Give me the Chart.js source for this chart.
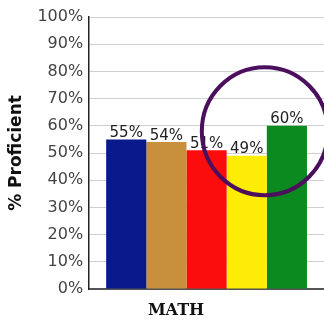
<!DOCTYPE html>
<html>
<head>
<meta charset="utf-8">
<script src="https://cdn.jsdelivr.net/npm/chart.js@4"></script>
<style>
  html, body { margin: 0; padding: 0; background: #fff; }
  #wrap { width: 324px; height: 323px; }
</style>
</head>
<body>
<div id="wrap"><canvas id="chart" width="324" height="323"></canvas></div>
<script>
"use strict";

const categories = ["MATH"];
const groups = ["Group 1", "Group 2", "Group 3", "Group 4", "Group 5"];
const values = [55, 54, 51, 49, 60];
const colors = ["#08198c", "#c88f3c", "#fb0d0d", "#fdec05", "#0b8a1f"];
const yTicks = [0, 10, 20, 30, 40, 50, 60, 70, 80, 90, 100];

// value labels above each bar
const barLabels = {
  id: "barLabels",
  afterDatasetsDraw(chart) {
    const ctx = chart.ctx;
    ctx.save();
    ctx.font = "15px 'DejaVu Sans'";
    ctx.fillStyle = "#222";
    ctx.textAlign = "center";
    ctx.textBaseline = "bottom";
    chart.data.datasets.forEach((ds, i) => {
      const bar = chart.getDatasetMeta(i).data[0];
      ctx.fillText(ds.data[0] + "%", bar.x, bar.y + 1);
    });
    ctx.restore();
  },
};

// category label + highlight circle
const extras = {
  id: "extras",
  afterDraw(chart) {
    const ctx = chart.ctx;
    const a = chart.chartArea;
    ctx.save();
    ctx.font = "bold 16px 'DejaVu Serif'";
    ctx.fillStyle = "#111";
    ctx.textAlign = "center";
    ctx.textBaseline = "middle";
    ctx.fillText(categories[0], a.left + (a.right - a.left) * 0.37, a.bottom + 22);

    const b3 = chart.getDatasetMeta(3).data[0];
    const b4 = chart.getDatasetMeta(4).data[0];
    const cx = (b3.x + b3.width / 2 + b4.x - b4.width / 2) / 2;
    const cy = chart.scales.y.getPixelForValue(58);
    ctx.beginPath();
    ctx.ellipse(cx - 2, cy, 63, 64, 0, 0, Math.PI * 2);
    ctx.strokeStyle = "#4b0f5e";
    ctx.lineWidth = 4;
    ctx.stroke();
    ctx.restore();
  },
};

new Chart(document.getElementById("chart"), {
  type: "bar",
  data: {
    labels: categories,
    datasets: groups.map((g, i) => ({
      label: g,
      data: [values[i]],
      backgroundColor: colors[i],
      borderWidth: 0,
      categoryPercentage: 0.855,
      barPercentage: 1.0,
    })),
  },
  options: {
    responsive: false,
    animation: false,
    layout: { padding: { top: 17, right: 0, bottom: 34, left: 6 } },
    plugins: { legend: { display: false }, tooltip: { enabled: false } },
    scales: {
      x: {
        ticks: { display: false },
        grid: { display: false, drawTicks: false },
        border: { color: "#555", width: 2 },
      },
      y: {
        min: 0,
        max: 100,
        afterBuildTicks: (s) => { s.ticks = yTicks.map((v) => ({ value: v })); },
        ticks: {
          callback: (v) => v + "%",
          color: "#444",
          font: { family: "DejaVu Sans", size: 16 },
          padding: 6,
        },
        grid: { color: "#d0d0d0", drawTicks: false },
        border: { color: "#222", width: 1.5 },
        title: {
          display: true,
          text: "% Proficient",
          color: "#111",
          font: { family: "DejaVu Sans", size: 17, weight: "bold" },
          padding: { top: 0, bottom: 5 },
        },
      },
    },
  },
  plugins: [barLabels, extras],
});
</script>
</body>
</html>
